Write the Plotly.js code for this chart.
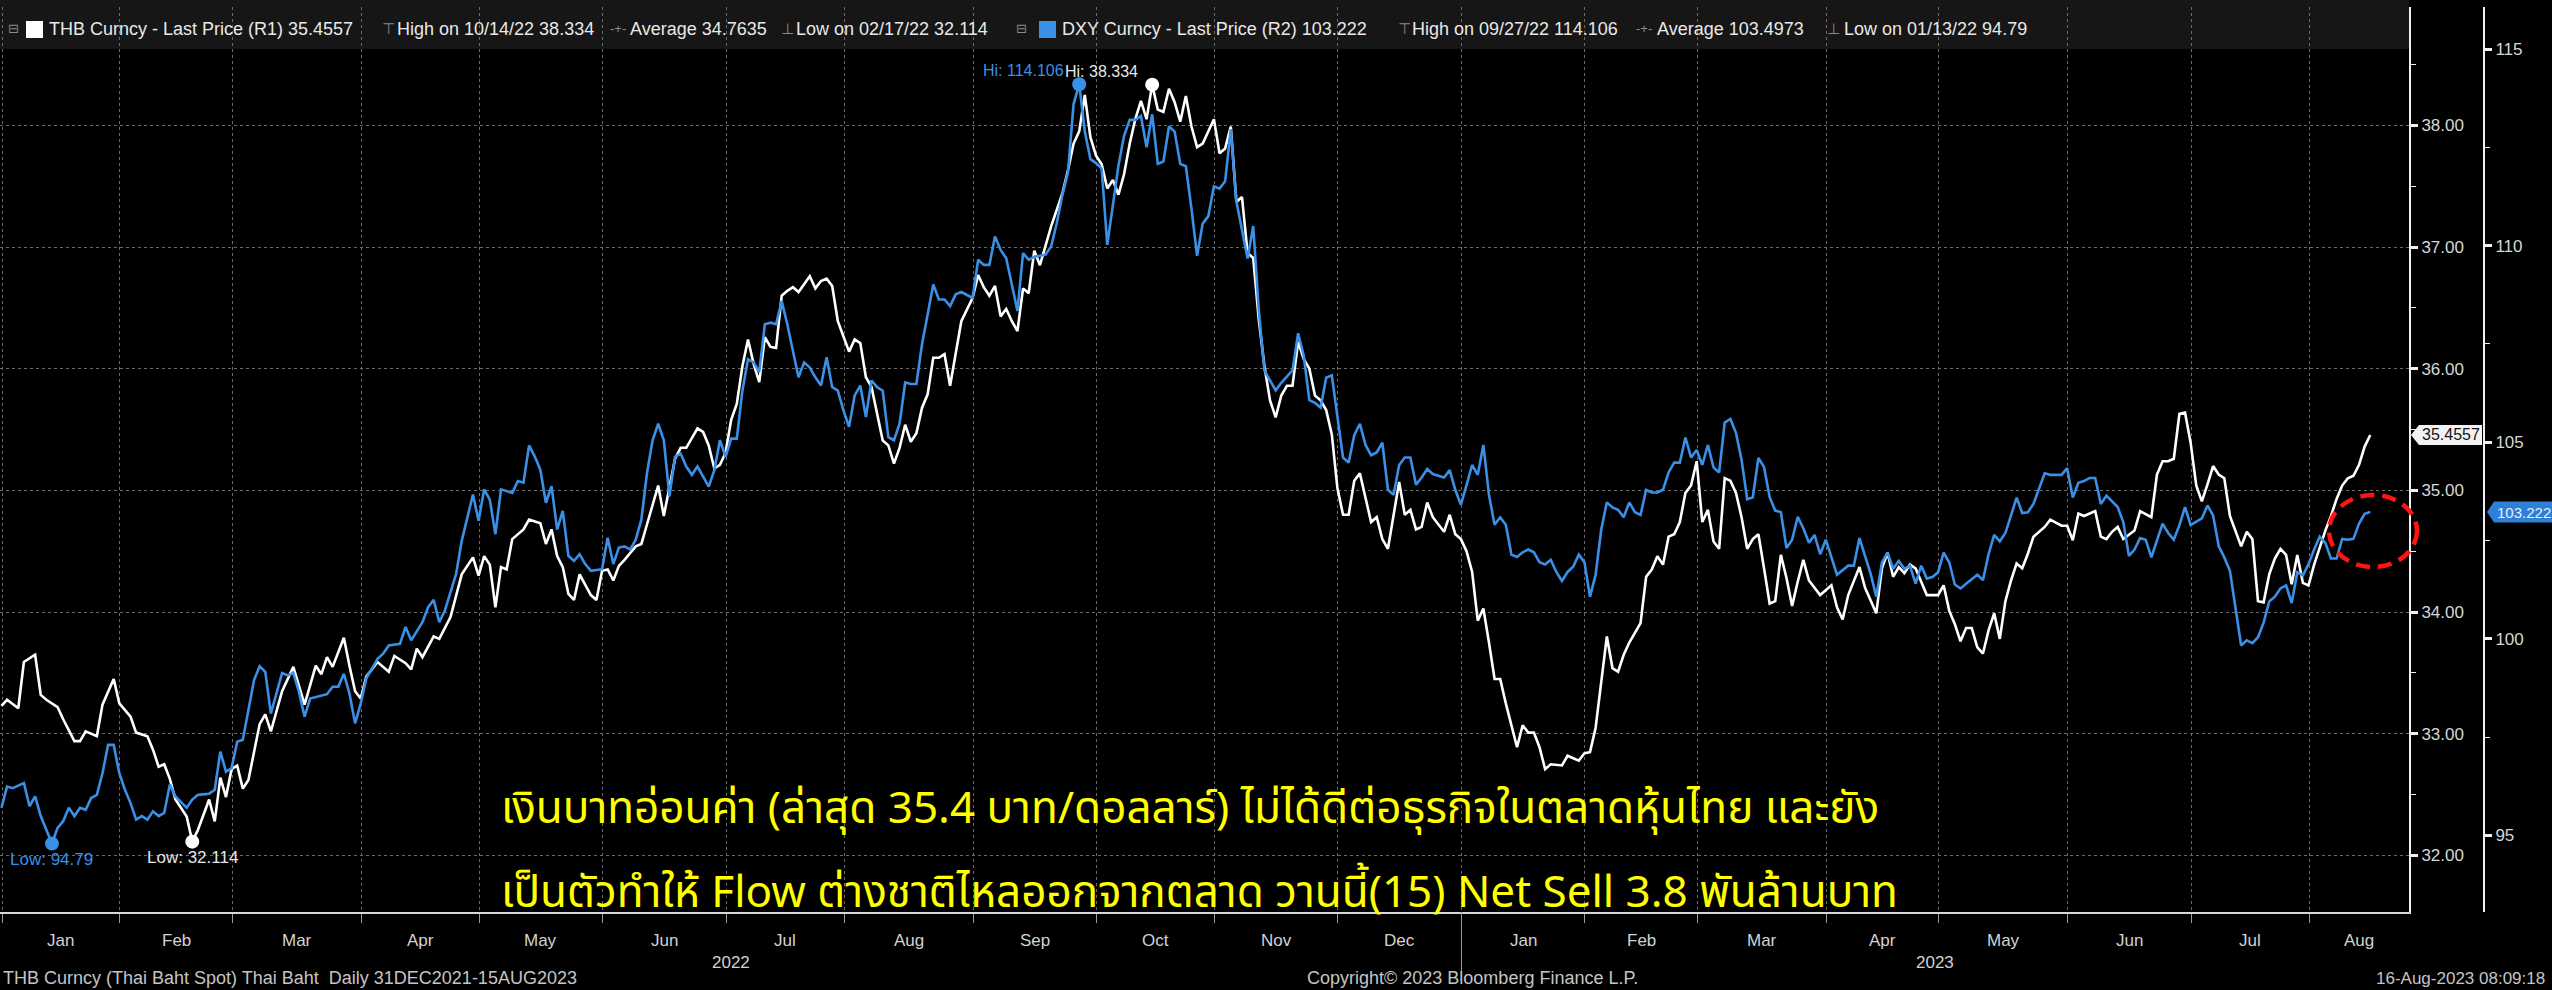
<!DOCTYPE html>
<html>
<head>
<meta charset="utf-8">
<script src="https://cdn.plot.ly/plotly-3.0.1.min.js"></script>
<style>
html,body{margin:0;padding:0;background:#000;overflow:hidden;}
#chart{width:2552px;height:990px;}
</style>
</head>
<body>
<div id="chart"></div>
<script>
// ---------------- DATA ----------------
const thbDates = [
'2021-12-31',
'2022-01-03','2022-01-05','2022-01-06','2022-01-10','2022-01-11','2022-01-12','2022-01-14','2022-01-17','2022-01-19','2022-01-20','2022-01-21','2022-01-25','2022-01-26','2022-01-28','2022-01-31',
'2022-02-02','2022-02-03','2022-02-07','2022-02-08','2022-02-09','2022-02-10','2022-02-11','2022-02-14','2022-02-16','2022-02-17','2022-02-18','2022-02-22','2022-02-23','2022-02-24','2022-02-25','2022-02-28',
'2022-03-01','2022-03-02','2022-03-03','2022-03-07','2022-03-08','2022-03-09','2022-03-11','2022-03-15','2022-03-17','2022-03-21','2022-03-22','2022-03-23','2022-03-24','2022-03-28','2022-03-29','2022-03-30','2022-03-31',
'2022-04-01','2022-04-05','2022-04-07','2022-04-08','2022-04-12','2022-04-13','2022-04-14','2022-04-15','2022-04-19','2022-04-20','2022-04-22','2022-04-26','2022-04-28','2022-04-29',
'2022-05-02','2022-05-03','2022-05-04','2022-05-05','2022-05-06','2022-05-09','2022-05-11','2022-05-12','2022-05-16','2022-05-17','2022-05-18','2022-05-19','2022-05-20','2022-05-23','2022-05-24','2022-05-25','2022-05-27','2022-05-30','2022-05-31',
'2022-06-01','2022-06-02','2022-06-03','2022-06-06','2022-06-08','2022-06-09','2022-06-10','2022-06-14','2022-06-15','2022-06-16','2022-06-17','2022-06-20','2022-06-21','2022-06-23','2022-06-24','2022-06-27','2022-06-28','2022-06-29','2022-06-30',
'2022-07-01','2022-07-04','2022-07-05','2022-07-06','2022-07-07','2022-07-08','2022-07-11','2022-07-12','2022-07-13','2022-07-14','2022-07-15','2022-07-18','2022-07-19','2022-07-21','2022-07-22','2022-07-25','2022-07-26','2022-07-27','2022-07-28',
'2022-08-01','2022-08-02','2022-08-03','2022-08-04','2022-08-05','2022-08-09','2022-08-10','2022-08-11','2022-08-12','2022-08-15','2022-08-16','2022-08-17','2022-08-18','2022-08-19','2022-08-22','2022-08-23','2022-08-24','2022-08-25','2022-08-26','2022-08-29','2022-08-31',
'2022-09-01','2022-09-02','2022-09-05','2022-09-06','2022-09-07','2022-09-08','2022-09-09','2022-09-12','2022-09-13','2022-09-14','2022-09-15','2022-09-16','2022-09-19','2022-09-20','2022-09-22','2022-09-23','2022-09-26','2022-09-27','2022-09-28','2022-09-29','2022-09-30',
'2022-10-03','2022-10-04','2022-10-05','2022-10-06','2022-10-07','2022-10-10','2022-10-11','2022-10-12','2022-10-13','2022-10-14','2022-10-17','2022-10-18','2022-10-19','2022-10-20','2022-10-21','2022-10-24','2022-10-25','2022-10-26','2022-10-27','2022-10-31',
'2022-11-01','2022-11-02','2022-11-03','2022-11-04','2022-11-07','2022-11-08','2022-11-09','2022-11-10','2022-11-11','2022-11-14','2022-11-15','2022-11-16','2022-11-17','2022-11-18','2022-11-21','2022-11-22','2022-11-23','2022-11-24','2022-11-25','2022-11-28','2022-11-29','2022-11-30',
'2022-12-01','2022-12-02','2022-12-05','2022-12-06','2022-12-07','2022-12-08','2022-12-09','2022-12-12','2022-12-13','2022-12-14','2022-12-15','2022-12-16','2022-12-19','2022-12-20','2022-12-21','2022-12-22','2022-12-23','2022-12-27','2022-12-28','2022-12-29','2022-12-30',
'2023-01-02','2023-01-03','2023-01-04','2023-01-05','2023-01-06','2023-01-09','2023-01-10','2023-01-11','2023-01-13','2023-01-16','2023-01-17','2023-01-18','2023-01-19','2023-01-20','2023-01-23','2023-01-25','2023-01-26','2023-01-30','2023-01-31',
'2023-02-01','2023-02-02','2023-02-03','2023-02-06','2023-02-07','2023-02-08','2023-02-09','2023-02-10','2023-02-14','2023-02-15','2023-02-16','2023-02-17','2023-02-20','2023-02-21','2023-02-22','2023-02-23','2023-02-24','2023-02-27','2023-02-28',
'2023-03-01','2023-03-02','2023-03-03','2023-03-06','2023-03-07','2023-03-08','2023-03-09','2023-03-10','2023-03-13','2023-03-14','2023-03-15','2023-03-16','2023-03-17','2023-03-20','2023-03-21','2023-03-22','2023-03-23','2023-03-24','2023-03-27','2023-03-28','2023-03-29','2023-03-30',
'2023-04-03','2023-04-04','2023-04-05','2023-04-06','2023-04-10','2023-04-11','2023-04-13','2023-04-14','2023-04-17','2023-04-18','2023-04-19','2023-04-20','2023-04-21','2023-04-24','2023-04-26','2023-04-28',
'2023-05-01','2023-05-02','2023-05-03','2023-05-04','2023-05-05','2023-05-08','2023-05-09','2023-05-10','2023-05-11','2023-05-12','2023-05-15','2023-05-16','2023-05-17','2023-05-18','2023-05-19','2023-05-22','2023-05-23','2023-05-25','2023-05-26','2023-05-30','2023-05-31',
'2023-06-01','2023-06-02','2023-06-05','2023-06-07','2023-06-08','2023-06-09','2023-06-12','2023-06-13','2023-06-14','2023-06-16','2023-06-19','2023-06-21','2023-06-22','2023-06-23','2023-06-26','2023-06-27','2023-06-28','2023-06-29','2023-06-30',
'2023-07-03','2023-07-04','2023-07-05','2023-07-06','2023-07-07','2023-07-10','2023-07-11','2023-07-12','2023-07-13','2023-07-14','2023-07-17','2023-07-18','2023-07-19','2023-07-20','2023-07-21','2023-07-24','2023-07-25','2023-07-26','2023-07-27','2023-07-28','2023-07-31',
'2023-08-01','2023-08-02','2023-08-03','2023-08-04','2023-08-07','2023-08-08','2023-08-09','2023-08-10','2023-08-11','2023-08-14','2023-08-15'
];
const thbValues = [
33.23,
33.28,33.21,33.59,33.65,33.32,33.28,33.22,33.12,32.94,32.94,33.02,32.98,33.24,33.45,33.25,
33.14,33.01,32.98,32.87,32.73,32.75,32.63,32.46,32.32,32.114,32.21,32.46,32.28,32.64,32.48,32.71,
32.74,32.55,32.62,33.08,33.16,33.02,33.35,33.55,33.24,33.56,33.49,33.63,33.55,33.79,33.56,33.35,33.29,
33.47,33.59,33.51,33.64,33.58,33.53,33.70,33.63,33.80,33.78,33.96,34.31,34.45,34.30,
34.46,34.39,34.04,34.37,34.35,34.60,34.68,34.76,34.73,34.56,34.68,34.46,34.37,34.15,34.10,34.31,34.14,34.10,34.34,
34.35,34.26,34.38,34.43,34.54,34.56,34.72,35.04,34.79,35.01,35.26,35.35,35.35,35.51,35.48,35.37,35.18,35.21,35.31,
35.58,35.71,36.02,36.24,36.04,35.89,36.26,36.18,36.17,36.60,36.64,36.67,36.63,36.76,36.66,36.72,36.74,36.68,36.39,
36.14,36.24,36.21,35.93,35.85,35.41,35.37,35.22,35.35,35.54,35.40,35.47,35.68,35.79,36.09,36.09,36.12,35.86,36.13,36.39,36.58,
36.77,36.67,36.60,36.68,36.43,36.49,36.39,36.31,36.66,36.62,36.97,36.85,37.00,37.17,37.44,37.63,37.85,37.95,38.25,37.90,37.75,
37.68,37.48,37.55,37.43,37.60,37.85,38.05,38.20,38.05,38.334,38.13,38.11,38.30,38.19,38.03,38.24,37.99,37.82,37.85,38.05,
37.77,37.81,37.99,37.37,37.41,36.95,36.91,36.40,36.02,35.74,35.60,35.78,35.86,35.86,36.22,36.08,36.00,35.78,35.74,35.66,35.46,35.02,
34.80,34.80,35.08,35.14,34.94,34.74,34.78,34.60,34.52,34.78,35.07,34.80,34.84,34.68,34.70,34.90,34.78,34.66,34.80,34.64,34.60,
34.50,34.33,33.93,34.03,33.75,33.45,33.45,33.25,32.89,33.07,33.01,33.01,32.89,32.71,32.75,32.74,32.82,32.78,32.84,
32.85,33.05,33.43,33.80,33.54,33.51,33.65,33.75,33.91,34.29,34.35,34.46,34.39,34.62,34.64,34.74,34.98,35.04,35.24,
34.74,34.84,34.58,34.52,35.10,35.08,34.98,34.78,34.52,34.60,34.64,34.36,34.07,34.09,34.47,34.28,34.05,34.25,34.43,34.26,34.20,34.14,
34.22,34.04,33.94,34.14,34.37,34.20,33.99,34.36,34.49,34.29,34.37,34.32,34.39,34.36,34.14,34.14,
34.22,34.01,33.90,33.76,33.87,33.87,33.71,33.66,33.85,33.99,33.78,34.09,34.26,34.40,34.36,34.48,34.62,34.70,34.76,34.71,34.71,
34.59,34.81,34.79,34.83,34.62,34.60,34.66,34.70,34.60,34.67,34.83,34.78,35.13,35.24,35.24,35.26,35.63,35.64,35.39,
35.04,34.91,35.05,35.20,35.13,35.10,34.79,34.67,34.54,34.66,34.60,34.09,34.08,34.31,34.44,34.52,34.47,34.23,34.47,34.24,34.22,
34.39,34.54,34.67,34.79,34.93,35.04,35.10,35.12,35.21,35.36,35.4557
];
const dxyDates = [
'2021-12-31',
'2022-01-03','2022-01-04','2022-01-06','2022-01-07','2022-01-10','2022-01-11','2022-01-13','2022-01-14','2022-01-17','2022-01-18','2022-01-19','2022-01-20','2022-01-21','2022-01-24','2022-01-25','2022-01-26','2022-01-27','2022-01-28','2022-01-31',
'2022-02-01','2022-02-02','2022-02-03','2022-02-04','2022-02-07','2022-02-08','2022-02-09','2022-02-10','2022-02-11','2022-02-14','2022-02-16','2022-02-17','2022-02-18','2022-02-22','2022-02-23','2022-02-24','2022-02-25','2022-02-28',
'2022-03-01','2022-03-02','2022-03-04','2022-03-07','2022-03-08','2022-03-09','2022-03-10','2022-03-11','2022-03-14','2022-03-15','2022-03-16','2022-03-17','2022-03-18','2022-03-21','2022-03-23','2022-03-24','2022-03-25','2022-03-28','2022-03-29','2022-03-30','2022-03-31',
'2022-04-01','2022-04-05','2022-04-06','2022-04-07','2022-04-11','2022-04-12','2022-04-13','2022-04-15','2022-04-18','2022-04-19','2022-04-20','2022-04-21','2022-04-25','2022-04-26','2022-04-28','2022-04-29',
'2022-05-02','2022-05-03','2022-05-04','2022-05-05','2022-05-09','2022-05-10','2022-05-11','2022-05-12','2022-05-13','2022-05-16','2022-05-17','2022-05-18','2022-05-19','2022-05-20','2022-05-23','2022-05-24','2022-05-25','2022-05-26','2022-05-27','2022-05-31',
'2022-06-01','2022-06-02','2022-06-03','2022-06-06','2022-06-07','2022-06-08','2022-06-09','2022-06-10','2022-06-13','2022-06-14','2022-06-15','2022-06-16','2022-06-17','2022-06-20','2022-06-21','2022-06-22','2022-06-23','2022-06-27','2022-06-28','2022-06-29','2022-06-30',
'2022-07-01','2022-07-04','2022-07-05','2022-07-06','2022-07-07','2022-07-08','2022-07-11','2022-07-12','2022-07-13','2022-07-14','2022-07-15','2022-07-18','2022-07-19','2022-07-20','2022-07-21','2022-07-22','2022-07-25','2022-07-26','2022-07-27','2022-07-28','2022-07-29',
'2022-08-01','2022-08-02','2022-08-03','2022-08-04','2022-08-05','2022-08-08','2022-08-09','2022-08-10','2022-08-11','2022-08-12','2022-08-15','2022-08-16','2022-08-17','2022-08-18','2022-08-19','2022-08-22','2022-08-23','2022-08-24','2022-08-25','2022-08-26','2022-08-29','2022-08-31',
'2022-09-01','2022-09-02','2022-09-05','2022-09-06','2022-09-07','2022-09-08','2022-09-09','2022-09-12','2022-09-13','2022-09-14','2022-09-15','2022-09-19','2022-09-20','2022-09-21','2022-09-22','2022-09-23','2022-09-26','2022-09-27','2022-09-28','2022-09-29','2022-09-30',
'2022-10-03','2022-10-04','2022-10-05','2022-10-06','2022-10-07','2022-10-10','2022-10-11','2022-10-12','2022-10-13','2022-10-14','2022-10-17','2022-10-18','2022-10-19','2022-10-20','2022-10-21','2022-10-24','2022-10-25','2022-10-26','2022-10-27','2022-10-28','2022-10-31',
'2022-11-01','2022-11-02','2022-11-03','2022-11-04','2022-11-07','2022-11-08','2022-11-09','2022-11-10','2022-11-11','2022-11-14','2022-11-15','2022-11-16','2022-11-18','2022-11-21','2022-11-22','2022-11-23','2022-11-24','2022-11-25','2022-11-28','2022-11-29','2022-11-30',
'2022-12-01','2022-12-02','2022-12-05','2022-12-06','2022-12-07','2022-12-08','2022-12-09','2022-12-12','2022-12-13','2022-12-14','2022-12-15','2022-12-16','2022-12-19','2022-12-20','2022-12-21','2022-12-22','2022-12-23','2022-12-27','2022-12-28','2022-12-29','2022-12-30',
'2023-01-02','2023-01-03','2023-01-04','2023-01-05','2023-01-06','2023-01-09','2023-01-10','2023-01-11','2023-01-12','2023-01-13','2023-01-16','2023-01-17','2023-01-18','2023-01-19','2023-01-20','2023-01-23','2023-01-24','2023-01-25','2023-01-26','2023-01-27','2023-01-30','2023-01-31',
'2023-02-01','2023-02-02','2023-02-03','2023-02-06','2023-02-07','2023-02-08','2023-02-09','2023-02-10','2023-02-13','2023-02-14','2023-02-15','2023-02-16','2023-02-17','2023-02-20','2023-02-21','2023-02-22','2023-02-23','2023-02-24','2023-02-27','2023-02-28',
'2023-03-01','2023-03-02','2023-03-03','2023-03-06','2023-03-07','2023-03-08','2023-03-09','2023-03-10','2023-03-13','2023-03-14','2023-03-15','2023-03-16','2023-03-17','2023-03-20','2023-03-21','2023-03-22','2023-03-23','2023-03-24','2023-03-27','2023-03-28','2023-03-29','2023-03-30','2023-03-31',
'2023-04-03','2023-04-04','2023-04-06','2023-04-07','2023-04-10','2023-04-11','2023-04-12','2023-04-13','2023-04-14','2023-04-17','2023-04-18','2023-04-19','2023-04-20','2023-04-21','2023-04-24','2023-04-25','2023-04-26','2023-04-27','2023-04-28',
'2023-05-01','2023-05-02','2023-05-03','2023-05-04','2023-05-05','2023-05-09','2023-05-10','2023-05-11','2023-05-12','2023-05-15','2023-05-16','2023-05-18','2023-05-19','2023-05-22','2023-05-23','2023-05-24','2023-05-25','2023-05-26','2023-05-30','2023-05-31',
'2023-06-01','2023-06-02','2023-06-05','2023-06-06','2023-06-07','2023-06-08','2023-06-09','2023-06-13','2023-06-14','2023-06-15','2023-06-16','2023-06-19','2023-06-20','2023-06-21','2023-06-22','2023-06-23','2023-06-26','2023-06-27','2023-06-28','2023-06-29','2023-06-30',
'2023-07-03','2023-07-04','2023-07-05','2023-07-06','2023-07-07','2023-07-10','2023-07-11','2023-07-12','2023-07-13','2023-07-14','2023-07-17','2023-07-18','2023-07-19','2023-07-20','2023-07-21','2023-07-24','2023-07-25','2023-07-26','2023-07-27','2023-07-28','2023-07-31',
'2023-08-01','2023-08-02','2023-08-03','2023-08-04','2023-08-07','2023-08-08','2023-08-09','2023-08-10','2023-08-11','2023-08-14','2023-08-15'
];
const dxyValues = [
95.70,
96.24,96.20,96.33,95.74,95.99,95.49,94.79,95.19,95.36,95.70,95.49,95.70,95.65,95.95,96.03,96.58,97.30,97.30,96.58,
96.16,95.82,95.40,95.49,95.40,95.61,95.49,95.57,96.29,95.99,95.70,95.91,96.03,96.06,96.16,97.13,96.62,96.71,
97.38,97.43,98.95,99.30,99.16,98.10,98.61,99.13,99.07,99.13,98.65,98.02,98.48,98.52,98.59,98.78,98.78,99.11,98.61,97.85,98.35,
98.99,99.49,99.62,99.83,99.87,100.30,99.96,100.42,100.80,100.99,100.42,100.72,101.65,102.49,103.67,103.00,
103.80,103.54,102.66,103.80,103.71,104.01,103.97,104.92,104.64,104.30,103.46,103.88,102.78,103.25,102.11,101.98,102.15,101.90,101.73,101.77,
102.57,101.90,102.32,102.35,102.27,102.52,103.03,104.21,105.05,105.47,105.05,103.62,104.63,104.71,104.38,104.17,104.38,103.87,104.29,105.05,104.63,
105.09,105.09,106.31,107.11,107.03,106.78,108.00,108.04,108.00,108.59,108.00,107.32,106.65,107.03,106.90,106.65,106.44,107.16,106.40,106.31,105.81,
105.39,106.19,106.44,105.64,106.57,106.40,106.31,105.13,105.05,105.47,106.52,106.48,106.48,107.49,108.25,109.01,108.63,108.63,108.46,108.76,108.82,108.67,
109.64,109.51,109.51,110.23,109.89,109.68,109.01,108.34,109.81,109.64,109.72,109.77,109.98,110.57,111.28,111.87,113.60,114.106,112.90,112.20,112.10,
111.96,110.02,111.03,112.04,112.80,113.20,113.20,113.30,112.50,113.34,112.08,112.14,113.03,112.90,112.08,112.02,110.94,109.74,110.56,110.75,111.51,
111.45,111.64,112.96,111.13,110.37,109.67,110.50,108.34,106.82,106.57,106.32,106.51,106.83,107.77,107.20,106.07,106.00,105.88,106.64,106.70,105.69,
104.61,104.48,105.18,105.47,104.93,104.67,104.74,104.99,103.79,103.66,104.42,104.61,104.61,103.92,104.10,104.32,104.19,104.10,104.29,103.79,103.41,
103.91,104.42,104.17,104.93,103.66,102.90,103.09,102.90,102.14,102.08,102.20,102.27,102.20,101.95,101.89,102.01,101.70,101.47,101.70,101.83,102.14,101.95,
101.07,101.63,102.78,103.47,103.34,103.28,103.09,103.47,103.22,103.15,103.79,103.72,103.72,103.79,104.23,104.48,104.48,105.12,104.61,104.80,
104.42,104.93,104.36,104.23,105.50,105.59,105.24,104.55,103.55,103.60,104.60,104.37,103.60,103.26,103.22,102.31,102.52,103.10,102.81,102.44,102.64,102.15,102.52,
102.07,101.63,101.86,101.86,102.56,102.11,101.65,101.07,101.94,102.19,101.78,101.98,101.78,101.86,101.40,101.86,101.53,101.57,101.69,
102.19,101.94,101.38,101.28,101.40,101.63,101.49,102.15,102.64,102.48,102.69,103.59,103.20,103.22,103.43,103.84,104.21,104.17,104.17,104.34,
103.59,103.97,104.01,104.09,104.09,103.43,103.64,103.35,102.97,102.11,102.27,102.56,102.52,102.07,102.52,102.93,102.69,102.52,102.89,103.35,102.89,
102.97,103.06,103.39,103.14,102.36,102.07,101.73,100.83,99.83,99.96,99.89,100.04,100.41,100.95,101.07,101.28,101.36,100.91,101.69,101.61,101.90,
102.27,102.60,102.44,102.04,102.04,102.54,102.52,102.54,102.93,103.18,103.222
];
const monthStarts = ['2022-01-03','2022-02-01','2022-03-01','2022-04-01','2022-05-02','2022-06-01','2022-07-01','2022-08-01','2022-09-01','2022-10-03','2022-11-01','2022-12-01','2023-01-02','2023-02-01','2023-03-01','2023-04-03','2023-05-01','2023-06-01','2023-07-03','2023-08-01'];
const monthLabels = ['Jan','Feb','Mar','Apr','May','Jun','Jul','Aug','Sep','Oct','Nov','Dec','Jan','Feb','Mar','Apr','May','Jun','Jul','Aug'];
const yearLabels = ['2022','2023'];
const thbTicks = [32,33,34,35,36,37,38];
const dxyTicks = [95,100,105,110,115];
const noteLines = [
  'เงินบาทอ่อนค่า (ล่าสุด 35.4 บาท/ดอลลาร์) ไม่ได้ดีต่อธุรกิจในตลาดหุ้นไทย และยัง',
  'เป็นตัวทำให้ Flow ต่างชาติไหลออกจากตลาด วานนี้(15) Net Sell 3.8 พันล้านบาท'
];
const legendThb = ['THB Curncy - Last Price (R1) 35.4557','High on 10/14/22 38.334','Average 34.7635','Low on 02/17/22 32.114'];
const legendDxy = ['DXY Curncy - Last Price (R2) 103.222','High on 09/27/22 114.106','Average 103.4973','Low on 01/13/22 94.79'];
const footerTexts = ['THB Curncy (Thai Baht Spot) Thai Baht\u00a0\u00a0Daily 31DEC2021-15AUG2023','Copyright\u00a9 2023 Bloomberg Finance L.P.','16-Aug-2023 08:09:18'];

// ---------------- LAYOUT HELPERS ----------------
const W = 2552, H = 990;
const M = {l:0, r:52, t:7, b:78};
const PW = W - M.l - M.r, PH = H - M.t - M.b;
const px = x => (x - M.l) / PW;
const py = y => (H - M.b - y) / PH;
const XEND = 2409;

const BASE = Date.UTC(2022,0,3), DAY = 86400000;
function idxToDate(p){ const w = Math.floor(p/5); const d = p - 5*w; return new Date(BASE + (7*w + d)*DAY); }
function dateToIdx(s){ const t = Date.parse(s + 'T00:00:00Z'); const days = Math.round((t-BASE)/DAY); const w = Math.floor(days/7); const d = days - 7*w; return 5*w + Math.min(d,5); }
function fmt(dt){ return dt.toISOString().slice(0,19).replace('T',' '); }

const SHIFT = 0.9;
const P0 = -1.256, P1 = 427.9;
const gridP = monthStarts.map(s => dateToIdx(s) - SHIFT);
const gridVals = gridP.map(p => fmt(idxToDate(p)));
const labelVals = gridP.map((p,i) => fmt(idxToDate((p + (i+1 < gridP.length ? gridP[i+1] : P1))/2)));
const yearSplit = gridP[12];
const yearPos = [fmt(idxToDate((P0 + yearSplit)/2)), fmt(idxToDate((yearSplit + P1)/2))];

const BLUE = '#3a8fe6';
const LATIN = '"Liberation Sans", Arial, "DejaVu Sans", sans-serif';
const THAI = '"Noto Sans Thai", "Noto Sans Thai UI", "Noto Sans Thai Looped", Kanit, Sarabun, Loma, Garuda, Waree, "Tlwg Typo", "Noto Sans", sans-serif';

function argMax(a){ let k=0; a.forEach((v,i)=>{ if(v>a[k]) k=i; }); return k; }
function argMin(a){ let k=0; a.forEach((v,i)=>{ if(v<a[k]) k=i; }); return k; }
const tHi = argMax(thbValues), tLo = argMin(thbValues), dHi = argMax(dxyValues), dLo = argMin(dxyValues);

// ---------------- TRACES ----------------
const traces = [
  {x: thbDates, y: thbValues, type:'scatter', mode:'lines', line:{color:'#ffffff', width:2.6}, yaxis:'y', xaxis:'x', hoverinfo:'skip'},
  {x: dxyDates, y: dxyValues, type:'scatter', mode:'lines', line:{color:BLUE, width:2.6}, yaxis:'y2', xaxis:'x', hoverinfo:'skip'},
  {x: [thbDates[tHi], thbDates[tLo]], y: [thbValues[tHi], thbValues[tLo]], type:'scatter', mode:'markers', marker:{color:'#ffffff', size:14}, yaxis:'y', hoverinfo:'skip'},
  {x: [dxyDates[dHi], dxyDates[dLo]], y: [dxyValues[dHi], dxyValues[dLo]], type:'scatter', mode:'markers', marker:{color:BLUE, size:14}, yaxis:'y2', hoverinfo:'skip'}
];

// ---------------- ANNOTATIONS ----------------
const ann = [];
const txt = (o) => ann.push(Object.assign({showarrow:false}, o));
// month & year labels
monthLabels.forEach((m,i) => txt({xref:'x', yref:'paper', x: labelVals[i], y: py(940), text: m, xanchor:'center', yanchor:'middle', font:{family:LATIN, size:17, color:'#d2d2d2'}}));
yearLabels.forEach((yl,i) => txt({xref:'x', yref:'paper', x: yearPos[i], y: py(962), text: yl, xanchor:'center', yanchor:'middle', font:{family:LATIN, size:17, color:'#d2d2d2'}}));
// footer
txt({xref:'paper', yref:'paper', x: px(1), y: py(978), text: footerTexts[0], xanchor:'left', yanchor:'middle', font:{family:LATIN, size:18, color:'#c4c4c4'}});
txt({xref:'paper', yref:'paper', x: px(1305), y: py(978), text: footerTexts[1], xanchor:'left', yanchor:'middle', font:{family:LATIN, size:18, color:'#c4c4c4'}});
txt({xref:'paper', yref:'paper', x: px(2374), y: py(978), text: footerTexts[2], xanchor:'left', yanchor:'middle', font:{family:LATIN, size:17, color:'#c4c4c4'}});
// legend row
const LY = py(29);
const lf = (c) => ({family:LATIN, size:18, color:c});
txt({xref:'paper', yref:'paper', x:px(6), y:LY, text:'\u229f', xanchor:'left', yanchor:'middle', font:{family:'"DejaVu Sans"', size:13, color:'#8a8a8a'}});
txt({xref:'paper', yref:'paper', x:px(47), y:LY, text:legendThb[0], xanchor:'left', yanchor:'middle', font:lf('#e8e8e8')});
txt({xref:'paper', yref:'paper', x:px(380), y:LY, text:'\u22a4', xanchor:'left', yanchor:'middle', font:{family:'"DejaVu Sans"', size:15, color:'#8a8a8a'}});
txt({xref:'paper', yref:'paper', x:px(395), y:LY, text:legendThb[1], xanchor:'left', yanchor:'middle', font:lf('#e8e8e8')});
txt({xref:'paper', yref:'paper', x:px(608), y:LY, text:'-+-', xanchor:'left', yanchor:'middle', font:{family:LATIN, size:13, color:'#8a8a8a'}});
txt({xref:'paper', yref:'paper', x:px(628), y:LY, text:legendThb[2], xanchor:'left', yanchor:'middle', font:lf('#e8e8e8')});
txt({xref:'paper', yref:'paper', x:px(779), y:LY, text:'\u22a5', xanchor:'left', yanchor:'middle', font:{family:'"DejaVu Sans"', size:15, color:'#8a8a8a'}});
txt({xref:'paper', yref:'paper', x:px(794), y:LY, text:legendThb[3], xanchor:'left', yanchor:'middle', font:lf('#e8e8e8')});
txt({xref:'paper', yref:'paper', x:px(1014), y:LY, text:'\u229f', xanchor:'left', yanchor:'middle', font:{family:'"DejaVu Sans"', size:13, color:'#8a8a8a'}});
txt({xref:'paper', yref:'paper', x:px(1060), y:LY, text:legendDxy[0], xanchor:'left', yanchor:'middle', font:lf('#e8e8e8')});
txt({xref:'paper', yref:'paper', x:px(1396), y:LY, text:'\u22a4', xanchor:'left', yanchor:'middle', font:{family:'"DejaVu Sans"', size:15, color:'#8a8a8a'}});
txt({xref:'paper', yref:'paper', x:px(1410), y:LY, text:legendDxy[1], xanchor:'left', yanchor:'middle', font:lf('#e8e8e8')});
txt({xref:'paper', yref:'paper', x:px(1634), y:LY, text:'-+-', xanchor:'left', yanchor:'middle', font:{family:LATIN, size:13, color:'#8a8a8a'}});
txt({xref:'paper', yref:'paper', x:px(1655), y:LY, text:legendDxy[2], xanchor:'left', yanchor:'middle', font:lf('#e8e8e8')});
txt({xref:'paper', yref:'paper', x:px(1825), y:LY, text:'\u22a5', xanchor:'left', yanchor:'middle', font:{family:'"DejaVu Sans"', size:15, color:'#8a8a8a'}});
txt({xref:'paper', yref:'paper', x:px(1842), y:LY, text:legendDxy[3], xanchor:'left', yanchor:'middle', font:lf('#e8e8e8')});
// hi / low labels
txt({xref:'x', yref:'y2', x: dxyDates[dHi], y: dxyValues[dHi], text:'Hi: ' + dxyValues[dHi], xanchor:'right', yanchor:'middle', xshift:-13, yshift:14, font:{family:LATIN, size:16, color:BLUE}});
txt({xref:'x', yref:'y', x: thbDates[tHi], y: thbValues[tHi], text:'Hi: ' + thbValues[tHi], xanchor:'right', yanchor:'middle', xshift:-12, yshift:13, font:{family:LATIN, size:16, color:'#e6e6e6'}});
txt({xref:'x', yref:'y2', x: dxyDates[dLo], y: dxyValues[dLo], text:'Low: ' + dxyValues[dLo], xanchor:'center', yanchor:'middle', yshift:-16, font:{family:LATIN, size:17, color:BLUE}});
txt({xref:'x', yref:'y', x: thbDates[tLo], y: thbValues[tLo], text:'Low: ' + thbValues[tLo], xanchor:'center', yanchor:'middle', yshift:-16, font:{family:LATIN, size:17, color:'#e6e6e6'}});
// last value tags
const lastT = thbValues[thbValues.length-1], lastD = dxyValues[dxyValues.length-1];
txt({xref:'paper', yref:'y', x: px(2451), y: lastT, text: String(lastT), xanchor:'center', yanchor:'middle', font:{family:LATIN, size:16, color:'#151515'}});
txt({xref:'paper', yref:'y2', x: px(2495), y: lastD, text: String(lastD), xanchor:'left', yanchor:'middle', font:{family:LATIN, size:15, color:'#e6f1ff'}});
// Thai note
txt({xref:'paper', yref:'paper', x: px(499), y: py(809), text: noteLines[0], xanchor:'left', yanchor:'middle', font:{family:THAI, size:44, color:'#ffff00'}});
txt({xref:'paper', yref:'paper', x: px(499), y: py(893), text: noteLines[1], xanchor:'left', yanchor:'middle', font:{family:THAI, size:44, color:'#ffff00'}});

// ---------------- SHAPES ----------------
const hT = 10/121.7, hD = 10.5/39.31;
const shapes = [
  {type:'rect', xref:'paper', yref:'paper', x0:px(0), x1:px(XEND), y0:py(49), y1:py(0), fillcolor:'#161616', line:{width:0}, layer:'below'},
  {type:'rect', xref:'paper', yref:'paper', x0:px(26), x1:px(43), y0:py(38), y1:py(21), fillcolor:'#ffffff', line:{width:0}},
  {type:'rect', xref:'paper', yref:'paper', x0:px(1039), x1:px(1056), y0:py(38), y1:py(21), fillcolor:BLUE, line:{width:0}},
  {type:'line', xref:'x', yref:'paper', x0: gridVals[12], x1: gridVals[12], y0: 0, y1: py(972), line:{color:'#9a9a9a', width:1}},
  {type:'path', xref:'paper', yref:'y', path:`M ${px(2411)},${lastT} L ${px(2419)},${lastT+hT} L ${px(2482)},${lastT+hT} L ${px(2482)},${lastT-hT} L ${px(2419)},${lastT-hT} Z`, fillcolor:'#f2f2f2', line:{width:0}},
  {type:'path', xref:'paper', yref:'y2', path:`M ${px(2487)},${lastD} L ${px(2494)},${lastD+hD} L ${px(2560)},${lastD+hD} L ${px(2560)},${lastD-hD} L ${px(2494)},${lastD-hD} Z`, fillcolor:'#2f7fd6', line:{width:0}},
  {type:'circle', xref:'paper', yref:'paper', x0:px(2329), x1:px(2417), y0:py(567), y1:py(495), line:{color:'#ff1414', width:4.5, dash:'14px,8px'}}
];

const layout = {
  width: W, height: H,
  margin: M,
  paper_bgcolor:'#000000', plot_bgcolor:'#000000',
  showlegend:false, hovermode:false,
  xaxis: {
    type:'date', domain:[0, px(XEND)], range:[fmt(idxToDate(P0)), fmt(idxToDate(P1))],
    rangebreaks:[{pattern:'day of week', bounds:[6,1]}],
    tickmode:'array', tickvals: gridVals, showticklabels:false,
    ticks:'outside', ticklen:9, tickcolor:'#9a9a9a', tickwidth:1,
    showgrid:true, gridcolor:'#6a6a6a', griddash:'dot', gridwidth:1,
    showline:true, linecolor:'#d8d8d8', linewidth:2, zeroline:false, anchor:'y', fixedrange:true
  },
  yaxis: {
    side:'right', anchor:'x', range:[31.536, 38.972],
    tickmode:'array', tickvals: thbTicks, tickformat:'.2f',
    ticks:'outside', ticklen:7, tickwidth:3, tickcolor:'#f0f0f0',
    minor:{dtick:0.5, tick0:31.5, ticks:'outside', ticklen:5, tickwidth:1, tickcolor:'#f0f0f0', showgrid:false},
    showgrid:true, gridcolor:'#6a6a6a', griddash:'dot', gridwidth:1,
    showline:true, linecolor:'#f0f0f0', linewidth:2, zeroline:false,
    tickfont:{family:LATIN, size:17, color:'#d6d6d6'}, fixedrange:true
  },
  yaxis2: {
    overlaying:'y', side:'right', anchor:'free', position: px(2484), range:[93.05, 116.07],
    tickmode:'array', tickvals: dxyTicks,
    ticks:'outside', ticklen:7, tickwidth:3, tickcolor:'#f0f0f0',
    minor:{dtick:2.5, tick0:92.5, ticks:'outside', ticklen:5, tickwidth:1, tickcolor:'#f0f0f0', showgrid:false},
    showgrid:false, showline:true, linecolor:'#f0f0f0', linewidth:2, zeroline:false,
    tickfont:{family:LATIN, size:17, color:'#d6d6d6'}, fixedrange:true
  },
  annotations: ann,
  shapes: shapes
};

Plotly.newPlot('chart', traces, layout, {displayModeBar:false, staticPlot:true});
</script>
</body>
</html>
